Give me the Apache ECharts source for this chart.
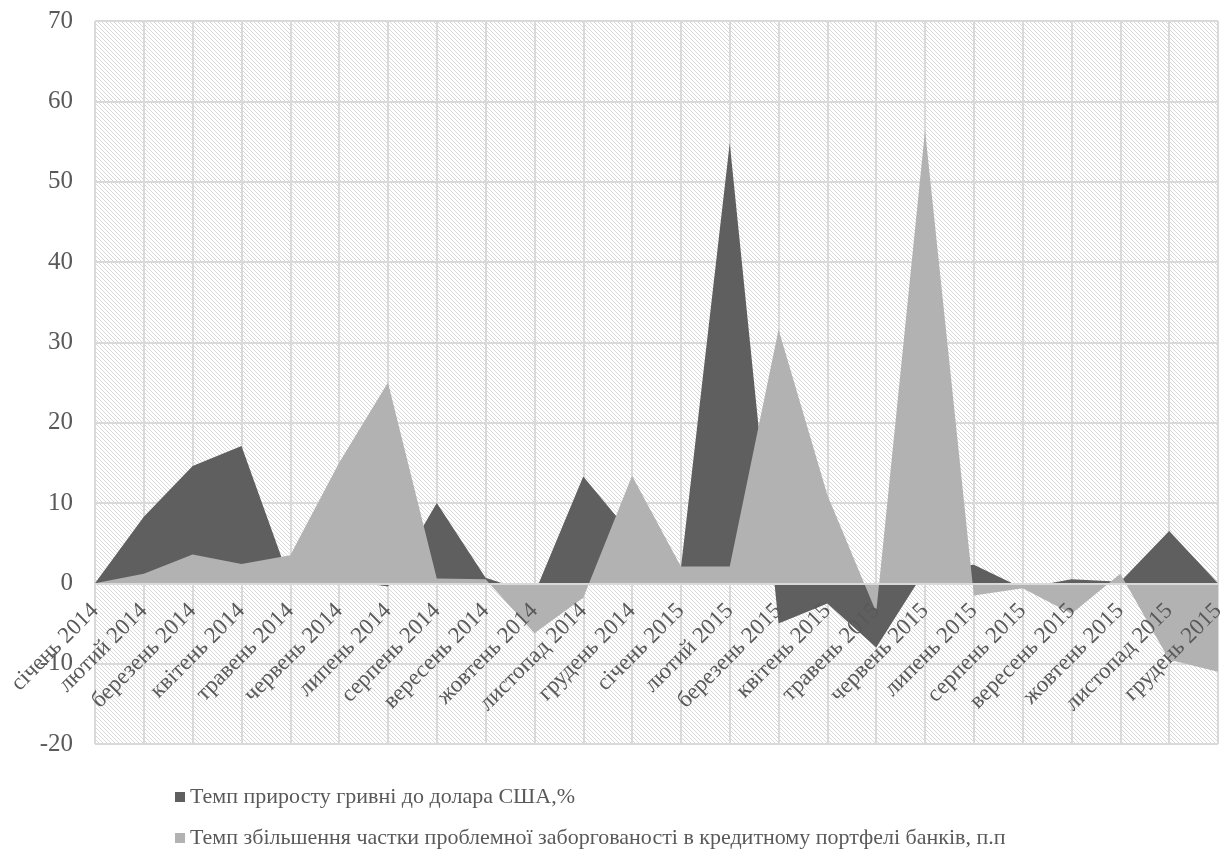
<!DOCTYPE html>
<html>
<head>
<meta charset="utf-8">
<script src="https://cdn.jsdelivr.net/npm/echarts@6/dist/echarts.min.js"></script>
<style>
  html, body { margin: 0; padding: 0; background: #fff; }
  #chart { width: 1230px; height: 853px; }
</style>
</head>
<body>
<div id="chart"></div>
<script>
// Months, January 2014 – December 2015
const categories = [
  'січень 2014', 'лютий 2014', 'березень 2014', 'квітень 2014', 'травень 2014', 'червень 2014',
  'липень 2014', 'серпень 2014', 'вересень 2014', 'жовтень 2014', 'листопад 2014', 'грудень 2014',
  'січень 2015', 'лютий 2015', 'березень 2015', 'квітень 2015', 'травень 2015', 'червень 2015',
  'липень 2015', 'серпень 2015', 'вересень 2015', 'жовтень 2015', 'листопад 2015', 'грудень 2015'
];

// Hryvnia depreciation rate vs USD, %
const hryvniaGrowth = [
  0, 8.3, 14.6, 17.1, 0.2, 0.5, -0.4, 10.0, 0.7, -1.3, 13.3, 6.0,
  1.9, 54.8, -5.0, -2.5, -8.0, 1.6, 2.3, -0.6, 0.5, 0.2, 6.5, 0
];

// Growth of the problem-loan share in bank credit portfolios, p.p.
const problemDebtGrowth = [
  0, 1.2, 3.6, 2.4, 3.5, 15.0, 25.0, 0.6, 0.5, -6.2, -1.8, 13.4,
  2.1, 2.1, 31.6, 11.0, -3.6, 56.4, -1.5, -0.6, -3.8, 1.2, -9.5, -11.0
];

const seriesNames = [
  'Темп приросту гривні до долара США,%',
  'Темп збільшення частки проблемної заборгованості в кредитному портфелі банків, п.п'
];

const yMin = -20, yMax = 70, yStep = 10;

// Layout of the plot area
const W = 1230, H = 853;
const gridLeft = 95, gridRight = 12, gridTop = 21, gridBottom = 109;
const plotHeight = H - gridTop - gridBottom;
// Category axis sits on the zero line, labels included
const zeroOffset = -plotHeight * (0 - yMin) / (yMax - yMin);

// Light downward-diagonal hatch for the plot background
function hatchPattern() {
  const c = document.createElement('canvas');
  c.width = 4; c.height = 4;
  const ctx = c.getContext('2d');
  ctx.fillStyle = '#ffffff';
  ctx.fillRect(0, 0, 4, 4);
  ctx.fillStyle = '#d8d8d8';
  for (let i = 0; i < 4; i++) ctx.fillRect(i, i, 1, 1);
  return c;
}

const font = '"Liberation Serif", "Times New Roman", serif';
const textColor = '#595959';
const gridColor = '#d9d9d9';

const chart = echarts.init(document.getElementById('chart'), null, { renderer: 'canvas' });
chart.setOption({
  animation: false,
  backgroundColor: '#ffffff',
  grid: {
    left: gridLeft, right: gridRight, top: gridTop, bottom: gridBottom,
    show: true,
    borderWidth: 0,
    backgroundColor: { image: hatchPattern(), repeat: 'repeat' }
  },
  legend: {
    orient: 'vertical',
    left: 175, top: 786,
    padding: 0,
    itemWidth: 10, itemHeight: 10,
    itemGap: 19,
    icon: 'rect',
    textStyle: { fontFamily: font, fontSize: 22, color: textColor },
    data: seriesNames
  },
  xAxis: [
    {
      // vertical gridlines, beneath the areas
      type: 'category',
      data: categories,
      boundaryGap: false,
      axisLine: { show: false },
      axisTick: { show: false },
      axisLabel: { show: false },
      splitLine: { show: true, interval: 0, lineStyle: { color: gridColor, width: 2 } }
    },
    {
      // zero line and month labels, drawn over the areas
      type: 'category',
      data: categories,
      position: 'bottom',
      boundaryGap: false,
      offset: zeroOffset,
      z: 3,
      axisLine: { onZero: false, lineStyle: { color: gridColor, width: 2 } },
      axisTick: { show: false },
      splitLine: { show: false },
      axisLabel: {
        interval: 0, rotate: 45, margin: 24,
        fontFamily: font, fontSize: 23, color: textColor
      }
    }
  ],
  yAxis: {
    type: 'value',
    min: yMin, max: yMax, interval: yStep,
    axisLine: { show: false },
    axisTick: { show: false },
    splitLine: { lineStyle: { color: gridColor, width: 2 } },
    axisLabel: { margin: 22, fontFamily: font, fontSize: 25, color: textColor }
  },
  series: [
    {
      name: seriesNames[0], type: 'line', data: hryvniaGrowth, xAxisIndex: 0,
      symbol: 'none', lineStyle: { width: 0 },
      itemStyle: { color: '#5f5f5f' },
      areaStyle: { color: '#5f5f5f', opacity: 1 }
    },
    {
      name: seriesNames[1], type: 'line', data: problemDebtGrowth, xAxisIndex: 0,
      symbol: 'none', lineStyle: { width: 0 },
      itemStyle: { color: '#b2b2b2' },
      areaStyle: { color: '#b2b2b2', opacity: 1 }
    }
  ]
});
</script>
</body>
</html>
